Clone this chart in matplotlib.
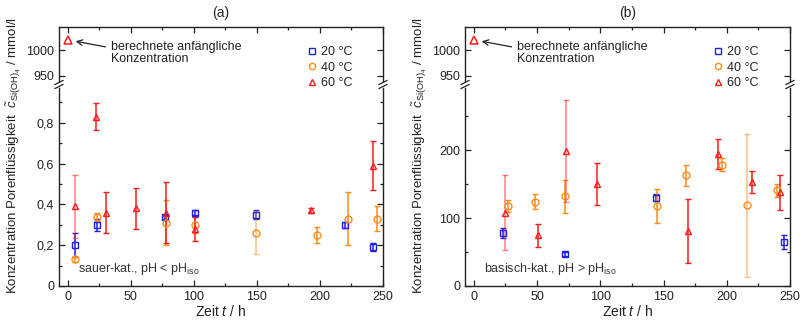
import matplotlib
matplotlib.use('Agg')
import matplotlib.pyplot as plt
from matplotlib.ticker import MultipleLocator, FuncFormatter
from matplotlib.lines import Line2D
from matplotlib.colors import to_rgba

plt.rcParams['font.family'] = ['Liberation Sans', 'DejaVu Sans']
plt.rcParams['mathtext.fontset'] = 'custom'
plt.rcParams['mathtext.rm'] = 'Liberation Sans'
plt.rcParams['mathtext.it'] = 'Liberation Sans:italic'
plt.rcParams['mathtext.bf'] = 'Liberation Sans:bold'

# ---------------- data ----------------
t_init = [0]
c_init = [1020]

# panel (a): acid-catalysed, mmol/l
a_t20 = [6, 23, 77, 101, 149, 220, 242]
a_c20 = [0.20, 0.30, 0.34, 0.36, 0.35, 0.30, 0.19]
a_e20 = [0.06, 0.03, 0.01, 0.01, 0.02, 0.015, 0.02]

a_t40 = [6, 23, 78, 101, 149, 198, 222, 245]
a_c40 = [0.13, 0.34, 0.31, 0.30, 0.26, 0.25, 0.33, 0.33]
a_e40 = [0.01, 0.02, 0.11, 0.04, 0.105, 0.04, 0.13, 0.06]

a_t60 = [6, 22, 30, 54, 78, 101, 193, 242]
a_c60 = [0.39, 0.83, 0.36, 0.38, 0.36, 0.28, 0.37, 0.59]
a_e60 = [0.155, 0.065, 0.10, 0.10, 0.15, 0.06, 0.01, 0.12]

# panel (b): base-catalysed, mmol/l
b_t20 = [23, 72, 144, 245]
b_c20 = [78, 47, 130, 65]
b_e20 = [7, 3, 5, 10]

b_t40 = [27, 48, 72, 145, 168, 196, 216, 240]
b_c40 = [118, 124, 132, 118, 163, 179, 119, 141]
b_e40 = [9, 11, 24, 25, 15, 10, 105, 10]

b_t60 = [25, 51, 73, 97, 169, 193, 220, 242]
b_c60 = [108, 75, 199, 151, 81, 195, 153, 138]
b_e60 = [55, 17, 75, 31, 47, 22, 16, 26]

labels = ['20 °C', '40 °C', '60 °C']

# style: indices of error bars drawn paler (per series) in each panel
a_faded = [[], [4], [0]]
b_faded = [[], [6], [0, 2]]

colors = ['#1f1fe6', '#ff8c1a', '#ff1a1a']
markers = ['s', 'o', '^']

W, H = 802, 323
fig = plt.figure(figsize=(W / 100, H / 100), dpi=100)


def fx(px):
    return px / W


def fy(py):
    return 1 - py / H


def comma(v, pos):
    if abs(v) < 1e-9:
        return '0'
    return ('%g' % v).replace('.', ',')


def make_panel(left_px, right_px, series, faded, lower_ylim, lower_major,
               lower_minor, fmt, title, note):
    top_up, bot_up = 27, 81
    top_lo, bot_lo = 88, 286
    ax_up = fig.add_axes([fx(left_px), fy(bot_up), fx(right_px - left_px),
                          (bot_up - top_up) / H])
    ax_lo = fig.add_axes([fx(left_px), fy(bot_lo), fx(right_px - left_px),
                          (bot_lo - top_lo) / H])
    for ax in (ax_up, ax_lo):
        ax.set_xlim(-7, 250)
        ax.xaxis.set_major_locator(MultipleLocator(50))
        ax.xaxis.set_minor_locator(MultipleLocator(25))
        ax.tick_params(which='both', direction='in', top=True, right=True,
                       labelsize=9, colors='#222222', width=0.9)
        ax.tick_params(which='major', length=4.5)
        ax.tick_params(which='minor', length=2.5)
        for s in ax.spines.values():
            s.set_linewidth(1.0)
            s.set_color('#222222')
    ax_up.spines['bottom'].set_visible(False)
    ax_up.tick_params(which='both', bottom=False, labelbottom=False)
    ax_lo.spines['top'].set_visible(False)
    ax_lo.tick_params(which='both', top=False)

    ax_up.set_ylim(940, 1046)
    ax_up.yaxis.set_major_locator(MultipleLocator(50))
    ax_up.yaxis.set_minor_locator(MultipleLocator(50))

    ax_lo.set_ylim(*lower_ylim)
    ax_lo.yaxis.set_major_locator(MultipleLocator(lower_major))
    ax_lo.yaxis.set_minor_locator(MultipleLocator(lower_minor))
    ax_lo.yaxis.set_major_formatter(FuncFormatter(fmt))

    for (t, c, e), fade, col, mk in zip(series, faded, colors, markers):
        for i in range(len(t)):
            ecol = to_rgba(col, 0.55 if i in fade else 1.0)
            ax_lo.errorbar([t[i]], [c[i]], yerr=[e[i]], fmt='none',
                           ecolor=ecol, elinewidth=1.1, capsize=2.5,
                           capthick=1.0, clip_on=False, zorder=3)
        ax_lo.plot(t, c, marker=mk, mfc='none', mec=col, ms=5, mew=1.0,
                   ls='none', clip_on=False, zorder=4)

    ax_up.plot(t_init, c_init, marker='^', mfc='none', mec=colors[2], ms=5.5,
               mew=1.1, ls='none', clip_on=False)
    ax_up.annotate('', xy=(4, 1019), xytext=(32, 1006),
                   arrowprops=dict(arrowstyle='->', color='#222222', lw=0.9))
    ax_up.text(34, 1018, 'berechnete anfängliche\nKonzentration', fontsize=9,
               va='top', ha='left', color='#222222', linespacing=1.0)

    ax_lo.text(0.06, 0.045, note, transform=ax_lo.transAxes, fontsize=9,
               color='#333333', ha='left', va='bottom')

    ax_lo.set_xlabel('Zeit $t$ / h', fontsize=10, color='#222222', labelpad=1)
    fig.text(fx((left_px + right_px) / 2 + 0), fy(13), title, fontsize=10,
             ha='center', va='center', color='#222222')

    # legend
    handles = [Line2D([], [], marker=mk, mfc='none', mec=col, ls='none',
                      ms=4.5, mew=1.0) for col, mk in zip(colors, markers)]
    leg = ax_up.legend(handles, labels, loc='upper left',
                       bbox_to_anchor=(fx(left_px + 248), fy(46)),
                       bbox_transform=fig.transFigure, frameon=False,
                       fontsize=9, handlelength=0.8, handletextpad=0.3,
                       borderpad=0, borderaxespad=0, labelspacing=0.3)
    for txt in leg.get_texts():
        txt.set_color('#222222')

    # axis break marks
    for xp in (left_px, right_px):
        for dy in (-2, 2):
            yc = 84.5 + dy
            fig.add_artist(Line2D([fx(xp - 4), fx(xp + 4)],
                                  [fy(yc + 2), fy(yc - 2)],
                                  color='#222222', lw=0.9))
    return ax_up, ax_lo


ylabel = r'Konzentration Porenflüssigkeit  $\tilde{c}_{\mathrm{Si(OH)_4}}$ / mmol/l'

make_panel(59, 383,
           [(a_t20, a_c20, a_e20), (a_t40, a_c40, a_e40), (a_t60, a_c60, a_e60)],
           a_faded, (0, 0.97), 0.2, 0.1, comma, '(a)',
           r'sauer-kat., pH < pH$_{\mathrm{iso}}$')
fig.text(fx(14), fy(156), ylabel, rotation=90, fontsize=9.5, ha='center',
         va='center', color='#222222')

make_panel(465, 790,
           [(b_t20, b_c20, b_e20), (b_t40, b_c40, b_e40), (b_t60, b_c60, b_e60)],
           b_faded, (0, 292), 100, 50, comma, '(b)',
           r'basisch-kat., pH > pH$_{\mathrm{iso}}$')
fig.text(fx(420), fy(156), ylabel, rotation=90, fontsize=9.5, ha='center',
         va='center', color='#222222')

fig.savefig('out.png', dpi=100)
